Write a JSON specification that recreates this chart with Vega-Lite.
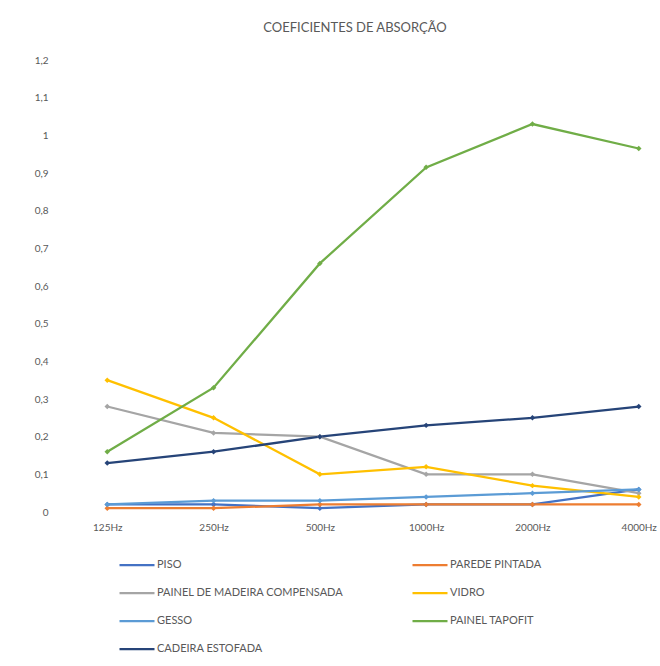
{
  "$schema": "https://vega.github.io/schema/vega-lite/v6.json",
  "autosize": "none",
  "padding": {"left": 86, "top": 60, "right": 0, "bottom": 154},
  "width": 574,
  "height": 452,
  "background": "white",
  "title": {
    "text": "COEFICIENTES DE ABSORÇÃO",
    "font": "Lato",
    "fontSize": 13,
    "fontWeight": "normal",
    "color": "#595959",
    "anchor": "middle",
    "dx": -18,
    "offset": 20
  },
  "config": {"view": {"stroke": null}},
  "data": {
    "values": [
      {"material": "PISO", "freq": "125Hz", "coef": 0.02},
      {"material": "PISO", "freq": "250Hz", "coef": 0.02},
      {"material": "PISO", "freq": "500Hz", "coef": 0.01},
      {"material": "PISO", "freq": "1000Hz", "coef": 0.02},
      {"material": "PISO", "freq": "2000Hz", "coef": 0.02},
      {"material": "PISO", "freq": "4000Hz", "coef": 0.06},
      {"material": "PAREDE PINTADA", "freq": "125Hz", "coef": 0.01},
      {"material": "PAREDE PINTADA", "freq": "250Hz", "coef": 0.01},
      {"material": "PAREDE PINTADA", "freq": "500Hz", "coef": 0.02},
      {"material": "PAREDE PINTADA", "freq": "1000Hz", "coef": 0.02},
      {"material": "PAREDE PINTADA", "freq": "2000Hz", "coef": 0.02},
      {"material": "PAREDE PINTADA", "freq": "4000Hz", "coef": 0.02},
      {"material": "PAINEL DE MADEIRA COMPENSADA", "freq": "125Hz", "coef": 0.28},
      {"material": "PAINEL DE MADEIRA COMPENSADA", "freq": "250Hz", "coef": 0.21},
      {"material": "PAINEL DE MADEIRA COMPENSADA", "freq": "500Hz", "coef": 0.2},
      {"material": "PAINEL DE MADEIRA COMPENSADA", "freq": "1000Hz", "coef": 0.1},
      {"material": "PAINEL DE MADEIRA COMPENSADA", "freq": "2000Hz", "coef": 0.1},
      {"material": "PAINEL DE MADEIRA COMPENSADA", "freq": "4000Hz", "coef": 0.05},
      {"material": "VIDRO", "freq": "125Hz", "coef": 0.35},
      {"material": "VIDRO", "freq": "250Hz", "coef": 0.25},
      {"material": "VIDRO", "freq": "500Hz", "coef": 0.1},
      {"material": "VIDRO", "freq": "1000Hz", "coef": 0.12},
      {"material": "VIDRO", "freq": "2000Hz", "coef": 0.07},
      {"material": "VIDRO", "freq": "4000Hz", "coef": 0.04},
      {"material": "GESSO", "freq": "125Hz", "coef": 0.02},
      {"material": "GESSO", "freq": "250Hz", "coef": 0.03},
      {"material": "GESSO", "freq": "500Hz", "coef": 0.03},
      {"material": "GESSO", "freq": "1000Hz", "coef": 0.04},
      {"material": "GESSO", "freq": "2000Hz", "coef": 0.05},
      {"material": "GESSO", "freq": "4000Hz", "coef": 0.06},
      {"material": "PAINEL TAPOFIT", "freq": "125Hz", "coef": 0.16},
      {"material": "PAINEL TAPOFIT", "freq": "250Hz", "coef": 0.33},
      {"material": "PAINEL TAPOFIT", "freq": "500Hz", "coef": 0.66},
      {"material": "PAINEL TAPOFIT", "freq": "1000Hz", "coef": 0.915},
      {"material": "PAINEL TAPOFIT", "freq": "2000Hz", "coef": 1.03},
      {"material": "PAINEL TAPOFIT", "freq": "4000Hz", "coef": 0.965},
      {"material": "CADEIRA ESTOFADA", "freq": "125Hz", "coef": 0.13},
      {"material": "CADEIRA ESTOFADA", "freq": "250Hz", "coef": 0.16},
      {"material": "CADEIRA ESTOFADA", "freq": "500Hz", "coef": 0.2},
      {"material": "CADEIRA ESTOFADA", "freq": "1000Hz", "coef": 0.23},
      {"material": "CADEIRA ESTOFADA", "freq": "2000Hz", "coef": 0.25},
      {"material": "CADEIRA ESTOFADA", "freq": "4000Hz", "coef": 0.28}
    ]
  },
  "mark": {"type": "line", "strokeWidth": 2.25, "point": {"shape": "diamond", "size": 30, "filled": true}},
  "encoding": {
    "x": {
      "field": "freq",
      "type": "ordinal",
      "sort": ["125Hz", "250Hz", "500Hz", "1000Hz", "2000Hz", "4000Hz"],
      "scale": {"type": "point", "padding": 0.2},
      "axis": {
        "title": null,
        "labelAngle": 0,
        "domain": false,
        "ticks": false,
        "labelFont": "Lato",
        "labelFontSize": 10,
        "labelColor": "#595959",
        "labelPadding": 10
      }
    },
    "y": {
      "field": "coef",
      "type": "quantitative",
      "scale": {"domain": [0, 1.2], "nice": false},
      "axis": {
        "title": null,
        "values": [0, 0.1, 0.2, 0.3, 0.4, 0.5, 0.6, 0.7, 0.8, 0.9, 1, 1.1, 1.2],
        "labelExpr": "replace(format(datum.value, '~g'), '.', ',')",
        "domain": false,
        "ticks": false,
        "grid": false,
        "labelFont": "Lato",
        "labelFontSize": 10,
        "labelColor": "#595959",
        "labelPadding": 38
      }
    },
    "color": {
      "field": "material",
      "type": "nominal",
      "scale": {
        "domain": ["PISO", "PAINEL DE MADEIRA COMPENSADA", "GESSO", "CADEIRA ESTOFADA", "PAREDE PINTADA", "VIDRO", "PAINEL TAPOFIT"],
        "range": ["#4472C4", "#A5A5A5", "#5B9BD5", "#264478", "#ED7D31", "#FFC000", "#70AD47"]
      },
      "legend": {
        "title": null,
        "orient": "none",
        "legendX": 32,
        "legendY": 486,
        "columns": 2,
        "columnPadding": 64,
        "rowPadding": 4,
        "symbolType": "stroke",
        "symbolSize": 1225,
        "symbolStrokeWidth": 2.25,
        "labelFont": "Lato",
        "labelFontSize": 11,
        "labelLimit": 400,
        "labelColor": "#595959",
        "labelOffset": 1
      }
    }
  }
}
